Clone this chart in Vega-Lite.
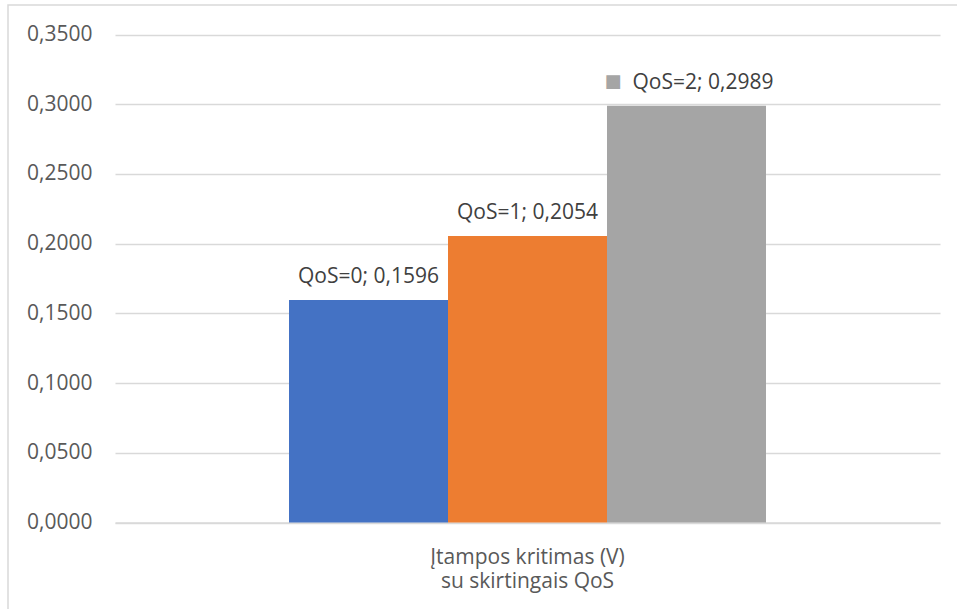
{
  "$schema": "https://vega.github.io/schema/vega-lite/v6.json",
  "width": 951,
  "height": 606,
  "autosize": {"type": "none"},
  "padding": {"left": 8, "top": 5, "right": -2, "bottom": -2},
  "background": "white",
  "config": {
    "view": {"stroke": "#D9D9D9", "strokeWidth": 1.5},
    "font": "Open Sans"
  },
  "data": {
    "values": [
      {"category": "Įtampos kritimas (V)|su skirtingais QoS", "qos": "QoS=0", "value": 0.1596, "label": "QoS=0; 0,1596"},
      {"category": "Įtampos kritimas (V)|su skirtingais QoS", "qos": "QoS=1", "value": 0.2054, "label": "QoS=1; 0,2054"},
      {"category": "Įtampos kritimas (V)|su skirtingais QoS", "qos": "QoS=2", "value": 0.2989, "label": "QoS=2; 0,2989"}
    ]
  },
  "encoding": {
    "x": {
      "field": "category",
      "type": "nominal",
      "scale": {"range": [107, 932], "paddingInner": 0, "paddingOuter": 0.3648},
      "axis": {
        "title": null,
        "orient": "bottom",
        "offset": -88.5,
        "ticks": false,
        "domain": true,
        "domainColor": "#D9D9D9",
        "domainWidth": 1.5,
        "labelAngle": 0,
        "labelExpr": "split(datum.label, '|')",
        "labelFont": "Open Sans",
        "labelFontSize": 21,
        "labelColor": "#595959",
        "labelPadding": 24,
        "labelLineHeight": 24,
        "labelBaseline": "top",
        "labelLimit": 0,
        "grid": false
      }
    },
    "xOffset": {
      "field": "qos",
      "type": "nominal",
      "scale": {"domain": ["QoS=0", "QoS=1", "QoS=2"], "paddingInner": 0, "paddingOuter": 0}
    },
    "y": {
      "field": "value",
      "type": "quantitative",
      "scale": {"domain": [0, 0.35], "range": [517.5, 29.5], "nice": false, "zero": true},
      "axis": {
        "title": null,
        "orient": "left",
        "offset": -84,
        "values": [0, 0.05, 0.1, 0.15, 0.2, 0.25, 0.3, 0.35],
        "labelExpr": "replace(format(datum.value, '.4f'), '.', ',')",
        "ticks": false,
        "domain": false,
        "grid": true,
        "gridColor": "#D9D9D9",
        "gridWidth": 1.5,
        "labelFont": "Open Sans",
        "labelFontSize": 21,
        "labelColor": "#595959",
        "labelPadding": 0,
        "labelBaseline": "middle"
      }
    }
  },
  "layer": [
    {
      "mark": {"type": "bar"},
      "encoding": {
        "color": {
          "field": "qos",
          "type": "nominal",
          "scale": {"domain": ["QoS=0", "QoS=1", "QoS=2"], "range": ["#4472C4", "#ED7D31", "#A5A5A5"]},
          "legend": null
        }
      }
    },
    {
      "transform": [{"filter": "datum.qos !== 'QoS=2'"}],
      "mark": {"type": "text", "baseline": "alphabetic", "align": "center", "dy": -17, "fontSize": 21, "font": "Open Sans", "color": "#404040"},
      "encoding": {"text": {"field": "label"}}
    },
    {
      "transform": [{"filter": "datum.qos === 'QoS=2'"}],
      "mark": {"type": "text", "baseline": "alphabetic", "align": "center", "dy": -17, "dx": 16.5, "fontSize": 21, "font": "Open Sans", "color": "#404040"},
      "encoding": {"text": {"field": "label"}}
    },
    {
      "transform": [{"filter": "datum.qos === 'QoS=2'"}],
      "mark": {"type": "text", "baseline": "alphabetic", "align": "center", "dy": -19, "dx": -73.5, "fontSize": 18, "font": "DejaVu Sans", "color": "#A5A5A5"},
      "encoding": {"text": {"value": "■"}}
    }
  ]
}
